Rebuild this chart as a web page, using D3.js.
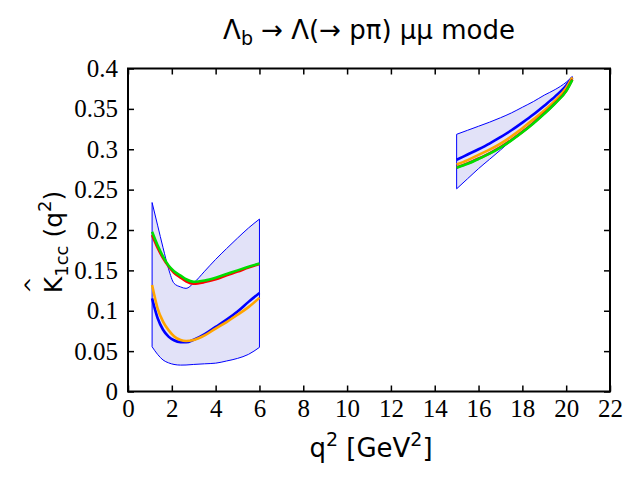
<!DOCTYPE html>
<html>
<head>
<meta charset="utf-8">
<script src="https://cdn.jsdelivr.net/npm/d3@7"></script>
<style>
  body { margin: 0; background: #fff; }
  svg { display: block; }
</style>
</head>
<body>
<div id="chart"></div>
<script>
// q^2 grids for the two regions
var qLow  = [1.1, 1.35, 1.6, 1.85, 2.1, 2.4, 2.65, 3.0, 3.5, 4.0, 4.5, 5.0, 5.5, 6.0];
var qHigh = [15, 15.5, 16, 16.5, 17, 17.5, 18, 18.5, 19, 19.5, 20, 20.28];

// uncertainty band
var bandUpLow  = [0.234, 0.206, 0.178, 0.152, 0.134, 0.1295, 0.1277, 0.1345, 0.149, 0.1636, 0.177, 0.190, 0.2025, 0.2135];
var bandLoLow  = [0.0554, 0.046, 0.039, 0.0355, 0.0335, 0.0327, 0.0328, 0.0335, 0.0343, 0.0351, 0.0378, 0.041, 0.046, 0.0547];
var bandUpHigh = [0.3185, 0.3235, 0.3285, 0.3335, 0.339, 0.345, 0.352, 0.359, 0.367, 0.374, 0.383, 0.390];
var bandLoHigh = [0.251, 0.2635, 0.276, 0.2875, 0.299, 0.311, 0.322, 0.332, 0.343, 0.356, 0.373, 0.387];

// central curves
var blueLow    = [0.1153, 0.091, 0.0765, 0.068, 0.0635, 0.0612, 0.061, 0.064, 0.071, 0.080, 0.089, 0.099, 0.111, 0.122];
var orangeLow  = [0.1318, 0.103, 0.0866, 0.076, 0.0685, 0.0637, 0.0625, 0.0638, 0.0695, 0.078, 0.086, 0.095, 0.1045, 0.116];
var redLow     = [0.1937, 0.178, 0.1652, 0.155, 0.147, 0.141, 0.1365, 0.1335, 0.1355, 0.139, 0.144, 0.1485, 0.1535, 0.1578];
var greenLow   = [0.1978, 0.181, 0.167, 0.156, 0.149, 0.1435, 0.139, 0.1358, 0.1375, 0.141, 0.1455, 0.150, 0.1545, 0.1585];

var blueHigh   = [0.287, 0.2935, 0.300, 0.307, 0.315, 0.3235, 0.333, 0.343, 0.354, 0.3655, 0.379, 0.389];
var orangeHigh = [0.281, 0.2865, 0.293, 0.2995, 0.307, 0.316, 0.326, 0.337, 0.348, 0.3605, 0.376, 0.389];
var redHigh    = [0.2775, 0.2825, 0.2885, 0.295, 0.3025, 0.3115, 0.3215, 0.3325, 0.3445, 0.3575, 0.3725, 0.3865];
var greenHigh  = [0.277, 0.282, 0.288, 0.2945, 0.302, 0.311, 0.321, 0.332, 0.344, 0.357, 0.372, 0.386];

var xTicks = [0, 2, 4, 6, 8, 10, 12, 14, 16, 18, 20, 22];
var yTicks = [0, 0.05, 0.1, 0.15, 0.2, 0.25, 0.3, 0.35, 0.4];

var width = 640, height = 480;
var margin = {left: 128, right: 30, top: 68.5, bottom: 88.5};
var iw = width - margin.left - margin.right,
    ih = height - margin.top - margin.bottom;

var svg = d3.select("#chart").append("svg")
    .attr("width", width)
    .attr("height", height);

var x = d3.scaleLinear().domain([0, 22]).range([0, iw]);
var y = d3.scaleLinear().domain([0, 0.4]).range([ih, 0]);

var g = svg.append("g")
    .attr("transform", "translate(" + margin.left + "," + margin.top + ")");

function zip(qs, lo, up) {
  return qs.map(function(q, i) { return {q: q, lo: lo ? lo[i] : null, v: up[i]}; });
}

var area = d3.area()
    .x(function(d) { return x(d.q); })
    .y0(function(d) { return y(d.lo); })
    .y1(function(d) { return y(d.v); })
    .curve(d3.curveMonotoneX);

var line = d3.line()
    .x(function(d) { return x(d.q); })
    .y(function(d) { return y(d.v); })
    .curve(d3.curveMonotoneX);

// bands
[[qLow, bandLoLow, bandUpLow], [qHigh, bandLoHigh, bandUpHigh]].forEach(function(b) {
  var pts = zip(b[0], b[1], b[2]);
  g.append("path")
      .attr("d", area(pts) + "Z")
      .style("fill", "#e2e2f8")
      .style("stroke", "#0000ff")
      .style("stroke-width", 1);
});

var series = [
  {color: "#0000ff", low: blueLow, high: blueHigh},
  {color: "#ffa500", low: orangeLow, high: orangeHigh},
  {color: "#ff0000", low: redLow, high: redHigh},
  {color: "#00dd00", low: greenLow, high: greenHigh}
];

series.forEach(function(s) {
  g.append("path")
      .attr("d", line(zip(qLow, null, s.low)))
      .style("fill", "none")
      .style("stroke", s.color)
      .style("stroke-width", 2.6);
  g.append("path")
      .attr("d", line(zip(qHigh, null, s.high)))
      .style("fill", "none")
      .style("stroke", s.color)
      .style("stroke-width", 2.6);
});

// axes: inward ticks on all four sides
var tickFont = "'Liberation Serif', 'Times New Roman', serif";

var xb = g.append("g")
    .attr("transform", "translate(0," + ih + ")")
    .call(d3.axisBottom(x).tickValues(xTicks).tickSizeInner(-6).tickSizeOuter(0).tickPadding(8));
var xt = g.append("g")
    .call(d3.axisTop(x).tickValues(xTicks).tickSizeInner(-6).tickSizeOuter(0).tickFormat(""));
var yl = g.append("g")
    .call(d3.axisLeft(y).tickValues(yTicks).tickSizeInner(-6).tickSizeOuter(0).tickPadding(10)
      .tickFormat(function(d) { return d3.format("")(+d.toFixed(2)); }));
var yr = g.append("g")
    .attr("transform", "translate(" + iw + ",0)")
    .call(d3.axisRight(y).tickValues(yTicks).tickSizeInner(-6).tickSizeOuter(0).tickFormat(""));

[xb, xt, yl, yr].forEach(function(a) {
  a.select(".domain").remove();
  a.selectAll(".tick line").style("stroke", "#000").style("stroke-width", 1.5);
  a.selectAll("text")
      .style("font-family", tickFont)
      .style("font-size", "25px")
      .style("fill", "#000");
});

g.append("rect")
    .attr("width", iw)
    .attr("height", ih)
    .style("fill", "none")
    .style("stroke", "#000")
    .style("stroke-width", 2);

var sans = "'DejaVu Sans', sans-serif";

// title
var title = svg.append("text")
    .attr("x", 369)
    .attr("y", 39)
    .attr("text-anchor", "middle")
    .style("font-family", sans)
    .style("font-size", "26px");
title.append("tspan").text("Λ");
title.append("tspan").attr("dy", 6).style("font-size", "19px").text("b");
title.append("tspan").attr("dy", -6).text(" → Λ(→ pπ) μμ mode");

// x axis title
var xl = svg.append("text")
    .attr("x", 371)
    .attr("y", 457)
    .attr("text-anchor", "middle")
    .style("font-family", sans)
    .style("font-size", "26px");
xl.append("tspan").text("q");
xl.append("tspan").attr("dy", -11).style("font-size", "19px").text("2");
xl.append("tspan").attr("dy", 11).text(" [GeV");
xl.append("tspan").attr("dy", -11).style("font-size", "19px").text("2");
xl.append("tspan").attr("dy", 11).text("]");

// y axis title
var yg = svg.append("g")
    .attr("transform", "translate(62,242) rotate(-90)");
var ylab = yg.append("text")
    .attr("text-anchor", "middle")
    .style("font-family", sans)
    .style("font-size", "25px");
ylab.append("tspan").text("K");
ylab.append("tspan").attr("dy", 6).style("font-size", "18px").text("1cc");
ylab.append("tspan").attr("dy", -6).text(" (q");
ylab.append("tspan").attr("dy", -11).style("font-size", "18px").text("2");
ylab.append("tspan").attr("dy", 11).text(")");

var kw = ylab.node().getComputedTextLength();
yg.append("text")
    .attr("x", -kw / 2 + 8)
    .attr("y", -23)
    .attr("text-anchor", "middle")
    .style("font-family", sans)
    .style("font-size", "20px")
    .text("^");
</script>
</body>
</html>
